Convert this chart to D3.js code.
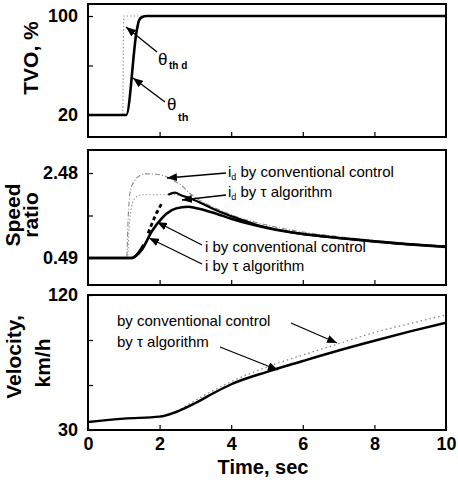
<!DOCTYPE html>
<html>
<head>
<meta charset="utf-8">
<script src="https://cdn.jsdelivr.net/npm/d3@7"></script>
<style>
  html, body { margin: 0; padding: 0; background: #fff; }
  svg { display: block; font-family: "Liberation Sans", Arial, Helvetica, sans-serif; }
  .tick-lbl text { font-weight: bold; font-size: 18px; fill: #000; }
  .ann { font-size: 15px; fill: #000; }
</style>
</head>
<body>
<svg id="chart" width="458" height="482"></svg>
<script>
// ---- data ----------------------------------------------------------------
const timeTicks = [0, 2, 4, 6, 8, 10];

// Throttle valve opening, %  [time s, value]
const thetaTh  = [[0, 20], [1.07, 20], [1.36, 88], [1.42, 96], [1.5, 99], [1.65, 100], [10, 100]];
const thetaThD = [[0, 20], [0.97, 20], [1.0, 100], [10, 100]];
const tvoTicks = [20, 60, 100];
const tvoLabels = [20, 100];

// Speed ratio  [time s, value]
const iConv = [[0, 0.49], [1.22, 0.49], [1.35, 0.55], [1.5, 0.68], [1.78, 1.11], [2.06, 1.42],
  [2.34, 1.61], [2.62, 1.68], [2.8, 1.69], [3.0, 1.66], [3.5, 1.55], [4, 1.41], [4.5, 1.29],
  [5, 1.19], [6, 1.05], [7, 0.96], [8, 0.88], [9, 0.81], [10, 0.75]];
const iTau = [[0, 0.49], [1.24, 0.49], [1.4, 0.6], [1.55, 0.8], [1.68, 1.07], [1.87, 1.46],
  [2.06, 1.77], [2.24, 1.97], [2.43, 2.02], [2.6, 1.96], [2.85, 1.89], [3.2, 1.76], [3.6, 1.6],
  [4, 1.47], [4.7, 1.27], [5.5, 1.12], [6.5, 1.0], [7.5, 0.92], [8.5, 0.84], [10, 0.76]];
const idConv = [[0, 0.49], [1.08, 0.49], [1.12, 1.4], [1.18, 2.05], [1.3, 2.3], [1.45, 2.42],
  [1.6, 2.46], [1.9, 2.45], [2.1, 2.42], [2.4, 2.3], [2.6, 2.2], [2.85, 2.0], [3.1, 1.85],
  [3.5, 1.68], [4, 1.5], [5, 1.26], [6, 1.1], [7, 0.99], [8, 0.9], [9, 0.82], [10, 0.76]];
const idTau = [[0, 0.49], [1.1, 0.49], [1.15, 1.2], [1.22, 1.7], [1.32, 1.9], [1.5, 1.97],
  [1.8, 1.97], [2.1, 1.97], [2.35, 1.98], [2.6, 1.95], [2.85, 1.89], [3.2, 1.77], [3.6, 1.61],
  [4, 1.48], [4.7, 1.28], [5.5, 1.13], [6.5, 1.01], [7.5, 0.93], [8.5, 0.85], [10, 0.77]];
const ratioTicks = [0.49, 1.485, 2.48];
const ratioLabels = [0.49, 2.48];
const iTauDashed = [1.62, 2.2];   // time span drawn dashed

// Vehicle velocity, km/h  [time s, value]
const velConv = [[0, 35.3], [1, 37.6], [2, 38.9], [2.4, 41.5], [2.8, 47], [3.2, 52.5], [4, 62.2],
  [5, 72], [6, 80], [7, 87.5], [8, 95], [9, 101], [10, 106.7]];
const velTau = [[0, 35.3], [1, 37.6], [2, 38.9], [2.4, 41.5], [3, 48], [3.5, 54.5], [4, 60.5],
  [5, 68.8], [6, 76], [7, 83], [8, 89.5], [9, 95.7], [10, 101.5]];
const velTicks = [30, 60, 90, 120];
const velLabels = [30, 120];

// ---- layout ----------------------------------------------------------------
const svg = d3.select("#chart");
const X0 = 88, X1 = 446;
const x = d3.scaleLinear().domain([0, 10]).range([X0, X1]);

const panels = {
  tvo:   { top: 4,   bottom: 137, y: d3.scaleLinear().domain([20, 100]).range([115, 16]) },
  ratio: { top: 150, bottom: 285, y: d3.scaleLinear().domain([0.49, 2.48]).range([258, 173]) },
  vel:   { top: 295, bottom: 430, y: d3.scaleLinear().domain([30, 120]).range([430, 295]) }
};

const defs = svg.append("defs");
defs.append("marker")
  .attr("id", "arrow").attr("markerUnits", "userSpaceOnUse")
  .attr("viewBox", "0 0 10 8").attr("refX", 10).attr("refY", 4)
  .attr("markerWidth", 10).attr("markerHeight", 8).attr("orient", "auto")
  .append("path").attr("d", "M0,0 L10,4 L0,8 Z").attr("fill", "#000");

Object.entries(panels).forEach(([k, p]) => {
  defs.append("clipPath").attr("id", "clip-" + k)
    .append("rect").attr("x", X0).attr("y", p.top)
    .attr("width", X1 - X0).attr("height", p.bottom - p.top);
});

function drawLine(panelKey, data, style) {
  const p = panels[panelKey];
  const line = d3.line().x(d => x(d[0])).y(d => p.y(d[1])).curve(d3.curveMonotoneX);
  return svg.append("path")
    .attr("clip-path", `url(#clip-${panelKey})`)
    .attr("d", line(data))
    .attr("fill", "none")
    .attr("stroke", style.color || "#000")
    .attr("stroke-width", style.width || 1)
    .attr("stroke-dasharray", style.dash || null)
    .attr("stroke-linejoin", "round")
    .attr("stroke-linecap", style.cap || "butt");
}

function drawAxes(panelKey, ticks, labels, showX) {
  const p = panels[panelKey];
  const gy = svg.append("g").attr("class", "tick-lbl")
    .attr("transform", `translate(${X0},0)`)
    .call(d3.axisLeft(p.y).tickValues(ticks).tickSizeInner(-5).tickSizeOuter(0)
      .tickPadding(10).tickFormat(d => labels.includes(d) ? String(d) : ""));
  gy.select(".domain").remove();
  gy.selectAll("line").attr("stroke-width", 1.2);

  const gx = svg.append("g").attr("class", "tick-lbl")
    .attr("transform", `translate(0,${p.bottom})`)
    .call(d3.axisBottom(x).tickValues(showX ? timeTicks : timeTicks.slice(1, -1))
      .tickSizeInner(-5).tickSizeOuter(0).tickPadding(7)
      .tickFormat(showX ? d3.format("d") : () => ""));
  gx.select(".domain").remove();
  gx.selectAll("line").attr("stroke-width", 1.2);

  svg.append("rect").attr("x", X0).attr("y", p.top)
    .attr("width", X1 - X0).attr("height", p.bottom - p.top)
    .attr("fill", "none").attr("stroke", "#000").attr("stroke-width", 2);
}

function arrow(x1, y1, x2, y2) {
  svg.append("line").attr("x1", x1).attr("y1", y1).attr("x2", x2).attr("y2", y2)
    .attr("stroke", "#000").attr("stroke-width", 1.3).attr("marker-end", "url(#arrow)");
}

function yTitle(txt, bx, cy) {
  svg.append("text").attr("transform", `translate(${bx},${cy}) rotate(-90)`)
    .attr("text-anchor", "middle").attr("font-weight", "bold").attr("font-size", 21)
    .text(txt);
}

// ---- throttle panel ----
drawLine("tvo", thetaThD, { color: "#999", width: 1.2, dash: "1.5,2" });
drawLine("tvo", thetaTh, { width: 2.6 });
drawAxes("tvo", tvoTicks, tvoLabels, false);
yTitle("TVO, %", 38, 58);

svg.append("text").attr("x", 158).attr("y", 65).attr("font-size", 17).text("θ");
svg.append("text").attr("x", 169).attr("y", 69).attr("font-size", 10).attr("font-weight", "bold").text("th d");
svg.append("text").attr("x", 167).attr("y", 110).attr("font-size", 17).text("θ");
svg.append("text").attr("x", 178).attr("y", 121).attr("font-size", 11).attr("font-weight", "bold").text("th");
arrow(157, 52, 126, 27);
arrow(165, 102, 133, 78);

// ---- speed ratio panel ----
drawLine("ratio", idConv, { color: "#888", width: 1.1, dash: "5,2,1,2" });
drawLine("ratio", idTau, { color: "#999", width: 1.1, dash: "1.5,2" });
drawLine("ratio", iConv, { width: 2.6 });
drawLine("ratio", iTau.filter(d => d[0] <= iTauDashed[0]), { width: 2.6 });
drawLine("ratio", iTau.filter(d => d[0] >= iTauDashed[0] && d[0] <= iTauDashed[1]),
  { width: 2.8, dash: "4,3" });
drawLine("ratio", iTau.filter(d => d[0] >= iTauDashed[1]), { width: 2.2 });
drawAxes("ratio", ratioTicks, ratioLabels, false);
yTitle("Speed", 20, 215);
yTitle("ratio", 38, 215);

function idLabel(xp, yp, rest) {
  const t = svg.append("text").attr("class", "ann").attr("x", xp).attr("y", yp);
  t.append("tspan").text("i");
  t.append("tspan").attr("font-size", 9).attr("dy", 3).text("d");
  t.append("tspan").attr("dy", -3).text(" " + rest);
}
idLabel(228, 177, "by conventional control");
idLabel(228, 197, "by τ algorithm");
svg.append("text").attr("class", "ann").attr("x", 205).attr("y", 252).text("i by conventional control");
svg.append("text").attr("class", "ann").attr("x", 205).attr("y", 271).text("i by τ algorithm");
arrow(226, 173, 167, 178);
arrow(226, 195, 182, 200);
arrow(202, 245, 157, 222);
arrow(202, 264, 149, 238);

// ---- velocity panel ----
drawLine("vel", velConv, { color: "#888", width: 1.3, dash: "1.5,3" });
drawLine("vel", velTau, { width: 2.4 });
drawAxes("vel", velTicks, velLabels, true);
yTitle("Velocity,", 21, 357);
yTitle("km/h", 50, 363);
svg.append("text").attr("class", "ann").attr("x", 117).attr("y", 326).text("by conventional control");
svg.append("text").attr("class", "ann").attr("x", 117).attr("y", 347).text("by τ algorithm");
arrow(291, 323, 337, 343);
arrow(220, 347, 278, 370);

svg.append("text").attr("x", 263).attr("y", 474).attr("text-anchor", "middle")
  .attr("font-weight", "bold").attr("font-size", 20).text("Time, sec");
</script>
</body>
</html>
